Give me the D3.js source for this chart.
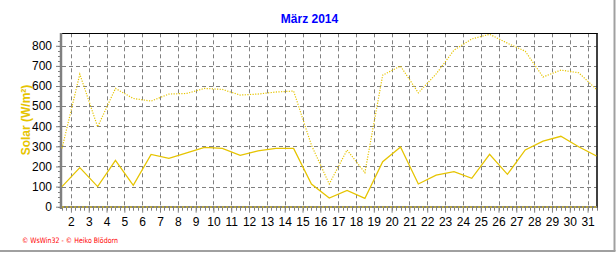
<!DOCTYPE html>
<html>
<head>
<meta charset="utf-8">
<script src="https://cdn.jsdelivr.net/npm/d3@7"></script>
<style>
  html, body { margin: 0; padding: 0; background: #fff; }
  svg { display: block; }
</style>
</head>
<body>
<svg id="chart" width="616" height="253"></svg>
<script>
// ---- data ----
const days = [1,2,3,4,5,6,7,8,9,10,11,12,13,14,15,16,17,18,19,20,21,22,23,24,25,26,27,28,29,30,31];
const solarMean = [100,194,100,230,106,260,240,268,295,290,255,278,290,290,113,43,81,41,224,297,113,157,174,141,260,161,282,326,350,298,252];
const solarMax  = [290,659,397,588,538,525,560,563,588,583,555,560,570,575,306,113,282,169,654,699,566,660,778,834,857,813,773,645,679,666,583];
const xTickLabels = [2,3,4,5,6,7,8,9,10,11,12,13,14,15,16,17,18,19,20,21,22,23,24,25,26,27,28,29,30,31];
const yTickValues = [0,100,200,300,400,500,600,700,800];
const title = "März 2014";
const yTitle = "Solar (W/m²)";
const footer = "© WsWin32 - © Heiko Blödorn";

// ---- layout ----
const svg = d3.select("#chart");
const L = 62, R = 596.5, T = 33.3, B = 206.7;
const x = d3.scaleLinear().domain([1.5, 31.5]).range([L, R]);
const y = d3.scaleLinear().domain([0, 862]).range([B, T]);
const lineColor = "#e6c400";
const font = "'Liberation Sans', Arial, sans-serif";

// outer frame (right / bottom gray)
svg.append("line").attr("x1", 614.5).attr("x2", 614.5).attr("y1", 0).attr("y2", 251)
  .attr("stroke", "#a0a0a0").attr("stroke-width", 2);
svg.append("line").attr("x1", 0).attr("x2", 615.5).attr("y1", 251).attr("y2", 251)
  .attr("stroke", "#a0a0a0").attr("stroke-width", 2);

// grid
const grid = svg.append("g");
grid.selectAll("line.v").data(xTickLabels).enter().append("line")
  .attr("x1", d => Math.round(x(d)) + 0.5).attr("x2", d => Math.round(x(d)) + 0.5)
  .attr("y1", T).attr("y2", B)
  .attr("stroke", "#808080").attr("stroke-dasharray", "4,3");
grid.selectAll("line.h").data(yTickValues.filter(v => v > 0)).enter().append("line")
  .attr("x1", L).attr("x2", R)
  .attr("y1", d => Math.round(y(d)) + 0.5).attr("y2", d => Math.round(y(d)) + 0.5)
  .attr("stroke", "#808080").attr("stroke-dasharray", "4,3");

// frame top/right black
svg.append("line").attr("x1", L).attr("x2", 597.5).attr("y1", 33.5).attr("y2", 33.5)
  .attr("stroke", "#000").attr("stroke-width", 1);
svg.append("line").attr("x1", 597).attr("x2", 597).attr("y1", 33).attr("y2", 208)
  .attr("stroke", "#000").attr("stroke-width", 1.5);

// y axis
const yAxis = d3.axisLeft(y).tickValues(yTickValues).tickSize(4).tickPadding(4);
const gy = svg.append("g").attr("transform", `translate(60,0)`).call(yAxis);
gy.select(".domain").remove();
gy.selectAll(".tick line").attr("stroke", "#808080");
gy.selectAll("text").attr("font-family", font).attr("font-size", 12).attr("fill", "#000");
// minor y ticks
svg.append("g").selectAll("line").data(d3.range(0, 826, 25)).enter().append("line")
  .attr("x1", 58).attr("x2", 60)
  .attr("y1", d => Math.round(y(d)) + 0.5).attr("y2", d => Math.round(y(d)) + 0.5)
  .attr("stroke", "#808080");

// x axis
const xAxis = d3.axisBottom(x).tickValues(xTickLabels).tickSize(5).tickPadding(5).tickFormat(d3.format("d"));
const gx = svg.append("g").attr("transform", `translate(0,${B + 1})`).call(xAxis);
gx.select(".domain").remove();
gx.selectAll(".tick line").attr("stroke", "#808080");
gx.selectAll("text").attr("font-family", font).attr("font-size", 12).attr("fill", "#000");
// minor x ticks (every 6 h)
svg.append("g").selectAll("line").data(d3.range(1.5, 31.51, 0.25)).enter().append("line")
  .attr("x1", d => Math.round(x(d)) + 0.5).attr("x2", d => Math.round(x(d)) + 0.5)
  .attr("y1", B + 1).attr("y2", B + 4)
  .attr("stroke", "#808080");

// axis lines
svg.append("line").attr("x1", 61).attr("x2", 61).attr("y1", 33).attr("y2", 209)
  .attr("stroke", "#808080").attr("stroke-width", 2.5);
svg.append("line").attr("x1", 60).attr("x2", 597).attr("y1", B + 0.3).attr("y2", B + 0.3)
  .attr("stroke", "#808080").attr("stroke-width", 2);
svg.append("line").attr("x1", 62).attr("x2", 597).attr("y1", B + 0.3).attr("y2", B + 0.3)
  .attr("stroke", lineColor).attr("stroke-width", 1).attr("stroke-dasharray", "2,2");

// series
const line = d3.line().x((d, i) => x(days[i] + 0.5)).y(d => y(d));
svg.append("path").datum(solarMax).attr("d", line)
  .attr("fill", "none").attr("stroke", lineColor).attr("stroke-width", 1.2)
  .attr("stroke-dasharray", "1.2,1.4");
svg.append("path").datum(solarMean).attr("d", line)
  .attr("fill", "none").attr("stroke", lineColor).attr("stroke-width", 1.3);

// titles
svg.append("text").attr("x", 309.5).attr("y", 23).attr("text-anchor", "middle")
  .attr("font-family", font).attr("font-size", 12).attr("font-weight", "bold")
  .attr("fill", "#0000ff").text(title);
svg.append("text").attr("transform", "translate(30,120) rotate(-90)").attr("text-anchor", "middle")
  .attr("font-family", font).attr("font-size", 12).attr("font-weight", "bold")
  .attr("fill", lineColor).text(yTitle);
svg.append("text").attr("x", 22).attr("y", 242.5)
  .attr("font-family", "'DejaVu Sans', sans-serif").attr("font-size", 7.5)
  .attr("textLength", 96).attr("lengthAdjust", "spacingAndGlyphs")
  .attr("fill", "#ff0000").text(footer);
</script>
</body>
</html>
